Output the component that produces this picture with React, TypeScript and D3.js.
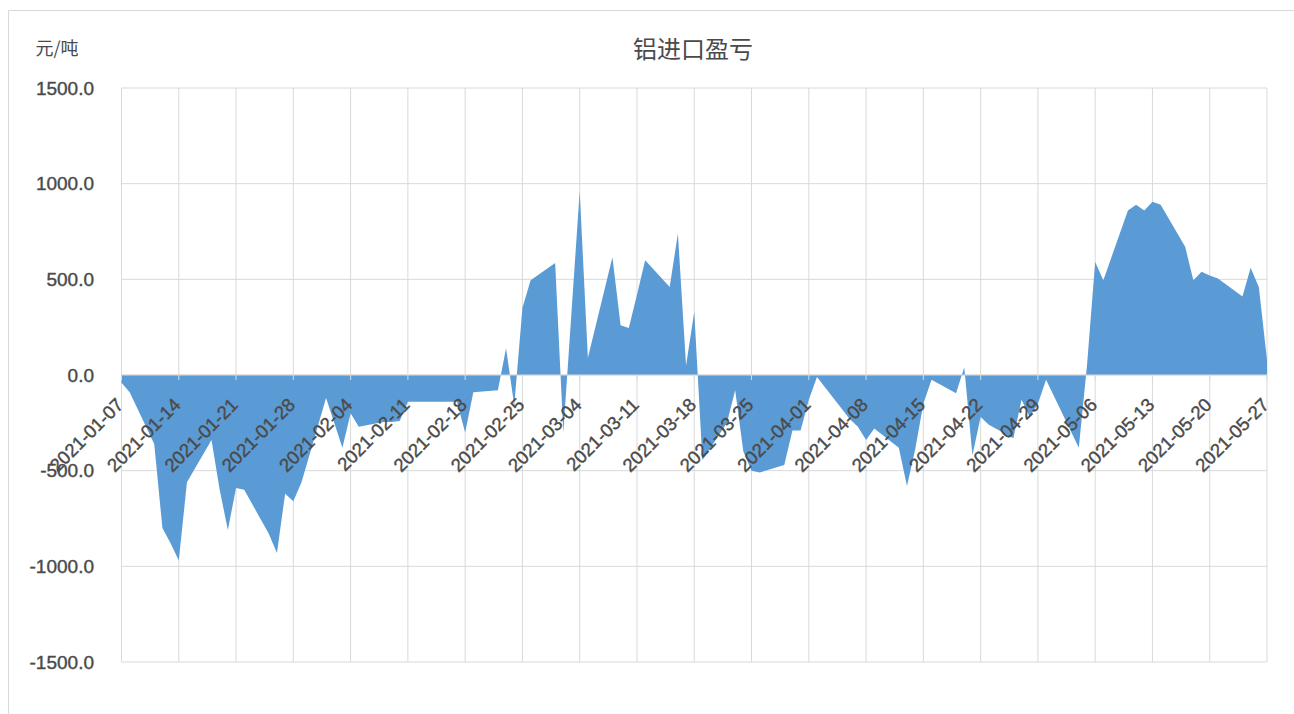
import React from "react";
import * as d3 from "d3";

const title = "铝进口盈亏";
const unitLabel = "元/吨";

const dates: string[] = [
  "2021-01-07","2021-01-08","2021-01-11","2021-01-12","2021-01-13","2021-01-14","2021-01-15",
  "2021-01-18","2021-01-19","2021-01-20","2021-01-21","2021-01-22",
  "2021-01-25","2021-01-26","2021-01-27","2021-01-28","2021-01-29",
  "2021-02-01","2021-02-02","2021-02-03","2021-02-04","2021-02-05",
  "2021-02-08","2021-02-09","2021-02-10","2021-02-11","2021-02-12",
  "2021-02-15","2021-02-16","2021-02-17","2021-02-18","2021-02-19",
  "2021-02-22","2021-02-23","2021-02-24","2021-02-25","2021-02-26",
  "2021-03-01","2021-03-02","2021-03-03","2021-03-04","2021-03-05",
  "2021-03-08","2021-03-09","2021-03-10","2021-03-11","2021-03-12",
  "2021-03-15","2021-03-16","2021-03-17","2021-03-18","2021-03-19",
  "2021-03-22","2021-03-23","2021-03-24","2021-03-25","2021-03-26",
  "2021-03-29","2021-03-30","2021-03-31","2021-04-01","2021-04-02",
  "2021-04-06","2021-04-07","2021-04-08","2021-04-09",
  "2021-04-12","2021-04-13","2021-04-14","2021-04-15","2021-04-16",
  "2021-04-19","2021-04-20","2021-04-21","2021-04-22","2021-04-23",
  "2021-04-26","2021-04-27","2021-04-28","2021-04-29","2021-04-30",
  "2021-05-04","2021-05-05","2021-05-06","2021-05-07",
  "2021-05-10","2021-05-11","2021-05-12","2021-05-13","2021-05-14",
  "2021-05-17","2021-05-18","2021-05-19","2021-05-20","2021-05-21",
  "2021-05-24","2021-05-25","2021-05-26","2021-05-27",
];

const values: number[] = [
  -40, -90, -360, -800, -880, -970, -560,
  -340, -600, -810, -590, -600,
  -830, -930, -620, -660, -560,
  -120, -250, -380, -200, -270,
  -245, -245, -240, -140, -140,
  -140, -140, -140, -300, -90,
  -80, 140, -160, 350, 495,
  585, -300, 330, 960, 90,
  615, 260, 245, 420, 600,
  460, 740, 50, 330, -445,
  -250, -80, -400, -500, -510,
  -470, -290, -290, -130, -10,
  -230, -270, -340, -280,
  -380, -580, -390, -150, -25,
  -95, 40, -420, -220, -260,
  -330, -130, -220, -150, -25,
  -380, 50, 590, 495,
  860, 890, 860, 905, 890,
  670, 495, 540, 520, 505,
  410, 560, 460, 80,
];

const xTickLabels: string[] = [
  "2021-01-07","2021-01-14","2021-01-21","2021-01-28","2021-02-04","2021-02-11","2021-02-18",
  "2021-02-25","2021-03-04","2021-03-11","2021-03-18","2021-03-25","2021-04-01","2021-04-08",
  "2021-04-15","2021-04-22","2021-04-29","2021-05-06","2021-05-13","2021-05-20","2021-05-27",
];

const yTicks: number[] = [-1500, -1000, -500, 0, 500, 1000, 1500];

const W = 1294;
const H = 714;
const left = 121.5;
const right = 1267;
const top = 88;
const bottom = 662;

export default function App() {
  const parse = d3.utcParse("%Y-%m-%d");
  const data = dates.map((d, i) => ({ date: parse(d) as Date, v: values[i] }));
  const x = d3
    .scaleUtc()
    .domain([parse(xTickLabels[0]) as Date, parse(xTickLabels[xTickLabels.length - 1]) as Date])
    .range([left, right]);
  const y = d3.scaleLinear().domain([-1500, 1500]).range([bottom, top]);

  const area = d3
    .area<{ date: Date; v: number }>()
    .x((d) => x(d.date))
    .y0(y(0))
    .y1((d) => y(d.v));

  const textColor = "#4a4a4a";
  const grid = "#d9d9d9";
  const numFont = "'Liberation Sans', Arial, sans-serif";
  const cjkFont = "'Noto Sans CJK SC', sans-serif";

  return (
    <svg
      width={W}
      height={H}
      style={{ position: "absolute", left: 0, top: 0, background: "#fff" }}
    >
      <rect x={0} y={0} width={W} height={H} fill="#fff" />
      <path d={`M8.5,${H} V10.5 H${W}`} fill="none" stroke={grid} strokeWidth={1} />

      {yTicks.map((t) => (
        <line key={"hy" + t} x1={left} x2={right} y1={y(t)} y2={y(t)} stroke={grid} strokeWidth={1} />
      ))}
      {xTickLabels.map((t) => {
        const xx = x(parse(t) as Date);
        return <line key={"vx" + t} x1={xx} x2={xx} y1={top} y2={bottom} stroke={grid} strokeWidth={1} />;
      })}

      <path d={area(data) || ""} fill="#5b9bd5" />

      <line x1={left} x2={right} y1={y(0)} y2={y(0)} stroke={grid} strokeWidth={1} />
      {xTickLabels.map((t) => {
        const xx = x(parse(t) as Date);
        return <line key={"tk" + t} x1={xx} x2={xx} y1={y(0)} y2={y(0) + 5} stroke={grid} strokeWidth={1} />;
      })}

      {yTicks.map((t) => (
        <text
          key={"yl" + t}
          x={94}
          y={y(t)}
          textAnchor="end"
          dominantBaseline="central"
          fontFamily={numFont}
          fontSize={19}
          fill={textColor}
          stroke={textColor}
          strokeWidth={0.4}
        >
          {t.toFixed(1)}
        </text>
      ))}

      {xTickLabels.map((t) => {
        const xx = x(parse(t) as Date) + 3;
        const yy = y(0) + 31;
        return (
          <text
            key={"xl" + t}
            transform={`translate(${xx},${yy}) rotate(-45)`}
            textAnchor="end"
            fontFamily={numFont}
            fontSize={18.5}
            fill={textColor}
            stroke={textColor}
            strokeWidth={0.4}
          >
            {t}
          </text>
        );
      })}

      <text x={57} y={47} textAnchor="middle" dominantBaseline="central" fontFamily={cjkFont} fontSize={18} fill={textColor}>
        {unitLabel}
      </text>
      <text x={693} y={47} textAnchor="middle" dominantBaseline="central" fontFamily={cjkFont} fontSize={24} fill={textColor}>
        {title}
      </text>
    </svg>
  );
}
